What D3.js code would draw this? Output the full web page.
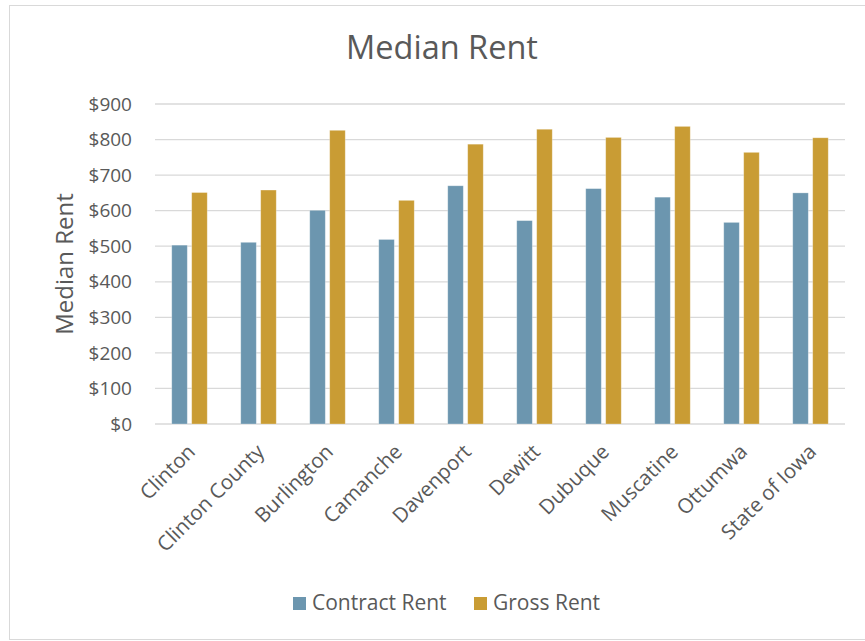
<!DOCTYPE html>
<html>
<head>
<meta charset="utf-8">
<script src="https://cdn.jsdelivr.net/npm/d3@7"></script>
<style>
  body { margin: 0; background: #fff; }
  svg text { font-family: "Open Sans", sans-serif; fill: #595959; }
</style>
</head>
<body>
<svg id="chart" width="865" height="641"></svg>
<script>
const places = ["Clinton", "Clinton County", "Burlington", "Camanche", "Davenport",
                "Dewitt", "Dubuque", "Muscatine", "Ottumwa", "State of Iowa"];
const contractRent = [503, 511, 601, 519, 670, 572, 662, 638, 567, 650];
const grossRent    = [651, 658, 826, 629, 787, 829, 806, 837, 764, 805];
const seriesNames = ["Contract Rent", "Gross Rent"];
const seriesColors = ["#6c96af", "#c99c34"];
const yTicks = [0, 100, 200, 300, 400, 500, 600, 700, 800, 900];

const svg = d3.select("#chart");

// chart frame, right edge runs past the window like the original
svg.append("rect")
  .attr("x", 9.5).attr("y", 5.5)
  .attr("width", 870).attr("height", 634)
  .attr("fill", "#fff")
  .attr("stroke", "#d9d9d9");

const plot = {left: 155, right: 845, top: 104, bottom: 424};

const x0 = d3.scaleBand().domain(places).range([plot.left, plot.right]);
const x1 = d3.scaleBand().domain(seriesNames)
  .range([0, x0.bandwidth()])
  .paddingInner(0.22).paddingOuter(0.84);
const y = d3.scaleLinear().domain([0, 900]).range([plot.bottom, plot.top]);

// gridlines
svg.append("g")
  .selectAll("line")
  .data(yTicks)
  .join("line")
  .attr("x1", plot.left).attr("x2", plot.right)
  .attr("y1", d => y(d)).attr("y2", d => y(d))
  .attr("stroke", "#d9d9d9")
  .attr("stroke-width", 1.3);

// y tick labels
svg.append("g")
  .selectAll("text")
  .data(yTicks)
  .join("text")
  .attr("x", 132)
  .attr("y", d => y(d))
  .attr("dy", "0.35em")
  .attr("text-anchor", "end")
  .attr("font-size", "19px")
  .text(d => d3.format("$,")(d));

// bars
const rows = places.map((p, i) => ({place: p, values: [contractRent[i], grossRent[i]]}));
const groups = svg.append("g")
  .selectAll("g")
  .data(rows)
  .join("g")
  .attr("transform", d => `translate(${x0(d.place)},0)`);

groups.selectAll("rect")
  .data(d => d.values.map((v, k) => ({name: seriesNames[k], value: v, k})))
  .join("rect")
  .attr("x", d => x1(d.name))
  .attr("y", d => y(d.value))
  .attr("width", x1.bandwidth())
  .attr("height", d => y(0) - y(d.value))
  .attr("fill", d => seriesColors[d.k])
  .attr("stroke", "#ffffff")
  .attr("stroke-opacity", 0.35)
  .attr("stroke-width", 0.8);

// x labels, rotated
svg.append("g")
  .selectAll("text")
  .data(places)
  .join("text")
  .attr("text-anchor", "end")
  .attr("font-size", "20.5px")
  .attr("transform", d => `translate(${x0(d) + x0.bandwidth() / 2 + 7},${plot.bottom + 29}) rotate(-45)`)
  .text(d => d);

// title
svg.append("text")
  .attr("x", 442).attr("y", 59)
  .attr("text-anchor", "middle")
  .attr("font-size", "32.5px")
  .text("Median Rent");

// y axis title
svg.append("text")
  .attr("transform", `translate(73,${(plot.top + plot.bottom) / 2}) rotate(-90)`)
  .attr("text-anchor", "middle")
  .attr("font-size", "24px")
  .text("Median Rent");

// legend
const legend = svg.append("g").attr("transform", "translate(293,597)");
const legendX = [0, 181];
const items = legend.selectAll("g")
  .data(seriesNames)
  .join("g")
  .attr("transform", (d, i) => `translate(${legendX[i]},0)`);
items.append("rect")
  .attr("width", 13).attr("height", 13)
  .attr("fill", (d, i) => seriesColors[i]);
items.append("text")
  .attr("x", 19).attr("y", 13)
  .attr("font-size", "21px")
  .text(d => d);
</script>
</body>
</html>
